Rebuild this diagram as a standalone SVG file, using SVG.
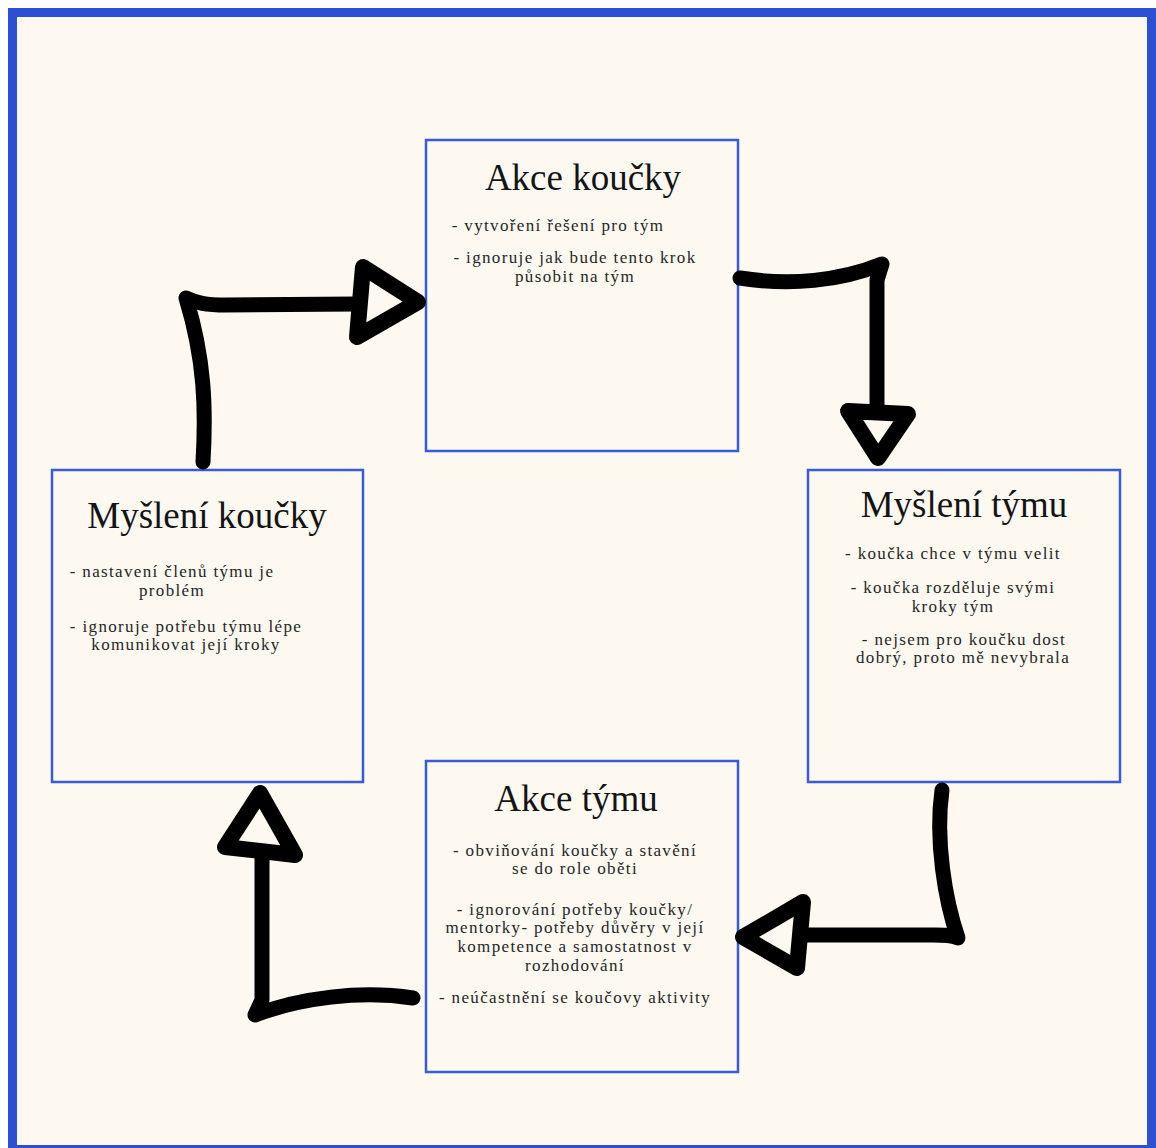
<svg xmlns="http://www.w3.org/2000/svg" width="1156" height="1148" viewBox="0 0 1156 1148">
  <style>
    .box { fill: #fdf9f1; stroke: #3a5bd8; stroke-width: 2.5; }
    .title { font-family: "Liberation Serif", "DejaVu Serif", serif; font-size: 37px; fill: #141414; text-anchor: middle; }
    .body { font-family: "Liberation Serif", "DejaVu Serif", serif; font-size: 17px; letter-spacing: 1.35px; fill: #262626; text-anchor: middle; }
    .conn { fill: none; stroke: #000; stroke-width: 15; stroke-linecap: round; stroke-linejoin: round; }
    .head { fill: #fdf9f1; stroke: #000; stroke-width: 16; stroke-linejoin: round; }
  </style>
  <rect x="0" y="0" width="1156" height="1148" fill="#ffffff"/>
  <rect x="8" y="8" width="1148" height="1140" fill="#2c4fd3"/>
  <rect x="17" y="17" width="1130" height="1128" fill="#fdf9f1"/>

  <g id="akce-koucky">
    <rect class="box" x="426" y="140" width="312" height="311"/>
    <text class="title" x="583" y="190">Akce koučky</text>
    <text class="body" x="558" y="231">- vytvoření řešení pro tým</text>
    <text class="body" x="575" y="263">- ignoruje jak bude tento krok</text>
    <text class="body" x="575" y="282">působit na tým</text>
  </g>

  <g id="mysleni-tymu">
    <rect class="box" x="808" y="470" width="312" height="312"/>
    <text class="title" x="964" y="517">Myšlení týmu</text>
    <text class="body" x="953" y="559">- koučka chce v týmu velit</text>
    <text class="body" x="953" y="593">- koučka rozděluje svými</text>
    <text class="body" x="953" y="612">kroky tým</text>
    <text class="body" x="964" y="645">- nejsem pro koučku dost</text>
    <text class="body" x="963" y="663">dobrý, proto mě nevybrala</text>
  </g>

  <g id="akce-tymu">
    <rect class="box" x="426" y="761" width="312" height="311"/>
    <text class="title" x="576" y="811">Akce týmu</text>
    <text class="body" x="575" y="856">- obviňování koučky a stavění</text>
    <text class="body" x="575" y="874">se do role oběti</text>
    <text class="body" x="575" y="915">- ignorování potřeby koučky/</text>
    <text class="body" x="575" y="933">mentorky- potřeby důvěry v její</text>
    <text class="body" x="575" y="952">kompetence a samostatnost v</text>
    <text class="body" x="575" y="971">rozhodování</text>
    <text class="body" x="575" y="1003">- neúčastnění se koučovy aktivity</text>
  </g>

  <g id="mysleni-koucky">
    <rect class="box" x="52" y="470" width="311" height="312"/>
    <text class="title" x="207" y="528">Myšlení koučky</text>
    <text class="body" x="172" y="577">- nastavení členů týmu je</text>
    <text class="body" x="172" y="596">problém</text>
    <text class="body" x="186" y="632">- ignoruje potřebu týmu lépe</text>
    <text class="body" x="186" y="650">komunikovat její kroky</text>
  </g>

  <g id="connectors">
    <path class="conn" d="M203,462 C206,410 205,360 186,298 C196,303 206,305 226,305 L357,304"/>
    <polygon class="head" points="363,267 418,302 357,337"/>
    <path class="conn" d="M740,278 C790,286 840,281 882,264 L877,280 L877,410"/>
    <polygon class="head" points="848,411 908,414 878,458"/>
    <path class="conn" d="M942,790 C935,840 945,900 958,938 C950,934 940,935 920,935 L800,935"/>
    <polygon class="head" points="803,902 743,937 797,968"/>
    <path class="conn" d="M413,998 C360,990 300,998 255,1015 L262,1000 L262,855"/>
    <polygon class="head" points="225,847 260,793 295,855"/>
  </g>
</svg>
